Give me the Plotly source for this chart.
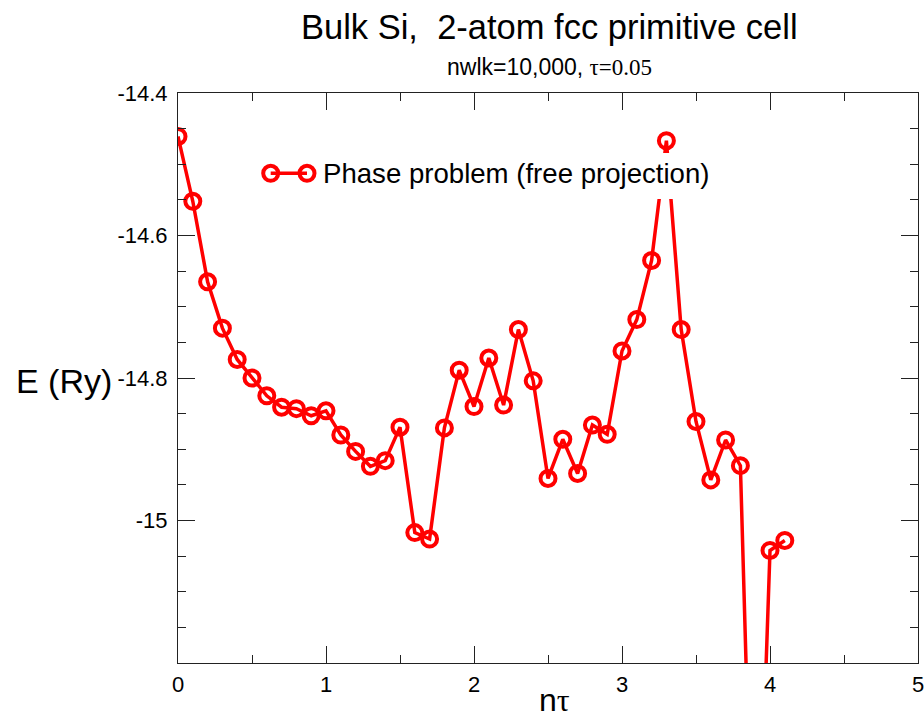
import plotly.graph_objects as go

# Data
n_tau = [0.0, 0.1, 0.2, 0.3, 0.4, 0.5, 0.6, 0.7, 0.8, 0.9,
         1.0, 1.1, 1.2, 1.3, 1.4, 1.5, 1.6, 1.7, 1.8, 1.9,
         2.0, 2.1, 2.2, 2.3, 2.4, 2.5, 2.6, 2.7, 2.8, 2.9,
         3.0, 3.1, 3.2, 3.3, 3.4, 3.5, 3.6, 3.7, 3.8, 3.9,
         4.0, 4.1]
energy = [-14.461, -14.552, -14.665, -14.730, -14.774, -14.800, -14.825, -14.841, -14.843, -14.853,
          -14.846, -14.880, -14.903, -14.924, -14.916, -14.869, -15.017, -15.026, -14.870, -14.789,
          -14.840, -14.772, -14.838, -14.732, -14.804, -14.941, -14.886, -14.934, -14.866, -14.879,
          -14.762, -14.718, -14.635, -14.467, -14.732, -14.861, -14.943, -14.887, -14.923, -15.65,
          -15.042, -15.028]
series_name = "Phase problem (free projection)"
x_ticks = [0, 1, 2, 3, 4, 5]
y_ticks = [-14.4, -14.6, -14.8, -15.0]
y_tick_text = ["-14.4", "-14.6", "-14.8", "-15"]

RED = "#ff0000"
AX = "#222222"
SANS = "Liberation Sans, Arial, sans-serif"
SERIF = "Liberation Serif, Times New Roman, serif"

W, H = 924, 722
L, R, T, B = 178, 6, 93, 59
PW, PH = W - L - R, H - T - B


def px(xp):
    return (xp - L) / PW


def py(yp):
    return (H - B - yp) / PH


fig = go.Figure()
fig.add_trace(go.Scatter(
    x=n_tau, y=energy, mode="lines+markers", name=series_name,
    line=dict(color=RED, width=3.5),
    marker=dict(symbol="circle-open", size=15, color=RED, line=dict(color=RED, width=4)),
    showlegend=False, cliponaxis=True,
))

axis_common = dict(
    showline=True, linecolor=AX, linewidth=1, mirror="ticks",
    ticks="inside", ticklen=17, tickwidth=1, tickcolor=AX,
    showgrid=False, zeroline=False, automargin=False,
    ticklabeloverflow="allow",
    tickfont=dict(family=SANS, size=22, color="black"),
)

fig.update_xaxes(range=[0, 5], tickvals=x_ticks, ticktext=[str(v) for v in x_ticks],
                 ticklabelstandoff=2,
                 minor=dict(ticks="inside", dtick=0.5, ticklen=8, tickcolor=AX, tickwidth=1, showgrid=False),
                 **axis_common)
fig.update_yaxes(range=[-15.2, -14.4], tickvals=y_ticks, ticktext=y_tick_text,
                 ticklabelstandoff=5,
                 minor=dict(ticks="inside", dtick=0.05, tick0=-15.2, ticklen=8, tickcolor=AX, tickwidth=1, showgrid=False),
                 **axis_common)

# Legend drawn as shapes + text (two markers joined by a line, like the reference)
lx1, lx2, ly = 270.7, 307.0, 173.3
shapes = [
    dict(type="rect", xref="paper", yref="paper", x0=px(258), x1=px(716), y0=py(199), y1=py(153),
         fillcolor="white", line=dict(width=0), layer="above"),
    dict(type="line", xref="paper", yref="paper", x0=px(lx1), x1=px(lx2), y0=py(ly), y1=py(ly),
         line=dict(color=RED, width=3.5), layer="above"),
]
for cx in (lx1, lx2):
    shapes.append(dict(type="circle", xref="paper", yref="paper",
                       xsizemode="pixel", ysizemode="pixel",
                       xanchor=px(cx), yanchor=py(ly), x0=-7.5, x1=7.5, y0=-7.5, y1=7.5,
                       line=dict(color=RED, width=4), fillcolor="rgba(0,0,0,0)", layer="above"))

annotations = [
    dict(text=series_name, xref="paper", yref="paper", x=px(321), y=py(173),
         xanchor="left", yanchor="middle", showarrow=False,
         font=dict(family=SANS, size=27.6, color="black")),
    dict(text="Bulk Si,\u00a0 2-atom fcc primitive cell", xref="paper", yref="paper",
         x=px(549.5), y=py(27), xanchor="center", yanchor="middle", showarrow=False,
         font=dict(family=SANS, size=34.5, color="black")),
    dict(text="nwlk=10,000, <span style='font-family:Liberation Serif'>\u03c4=0.05</span>",
         xref="paper", yref="paper", x=px(549), y=py(67), xanchor="center", yanchor="middle",
         showarrow=False, font=dict(family=SANS, size=23, color="black")),
    dict(text="E (Ry)", xref="paper", yref="paper", x=px(64), y=py(381),
         xanchor="center", yanchor="middle", showarrow=False,
         font=dict(family=SANS, size=34, color="black")),
    dict(text="n<span style='font-family:Liberation Serif'>\u03c4</span>", xref="paper", yref="paper",
         x=px(554), y=py(700), xanchor="center", yanchor="middle", showarrow=False,
         font=dict(family=SANS, size=32, color="black")),
]

fig.update_layout(
    width=W, height=H,
    margin=dict(l=L, r=R, t=T, b=B, autoexpand=False),
    paper_bgcolor="white", plot_bgcolor="white",
    showlegend=False,
    shapes=shapes, annotations=annotations,
)

fig.write_html("out.html")
